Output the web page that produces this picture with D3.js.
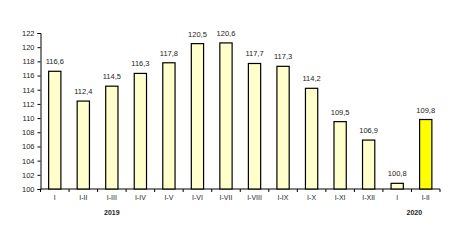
<!DOCTYPE html>
<html>
<head>
<meta charset="utf-8">
<script src="https://cdn.jsdelivr.net/npm/d3@7"></script>
<style>
  body { margin: 0; background: #fff; }
  svg text { font-family: Arial, "Liberation Sans", sans-serif; fill: #222; }
</style>
</head>
<body>
<svg id="chart" width="464" height="246"></svg>
<script>
const categories = ['I', 'I-II', 'I-III', 'I-IV', 'I-V', 'I-VI', 'I-VII', 'I-VIII', 'I-IX', 'I-X', 'I-XI', 'I-XII', 'I ', 'I-II '];
const values = [116.6, 112.4, 114.5, 116.3, 117.8, 120.5, 120.6, 117.7, 117.3, 114.2, 109.5, 106.9, 100.8, 109.8];
const highlighted = [false, false, false, false, false, false, false, false, false, false, false, false, false, true];
const yearLabels = [{ year: '2019', at: 2 }, { year: '2020', at: 12.6 }];
const yTicks = d3.range(100, 123, 2);

const svg = d3.select('#chart');

const x = d3.scaleBand().domain(categories).range([40.5, 440]).paddingInner(0.57).paddingOuter(0.285);
const y = d3.scaleLinear().domain([100, 122]).range([189, 33]);
const band = (x.range()[1] - x.range()[0]) / categories.length;

// y axis
let yAxis = svg.append('g')
    .attr('transform', `translate(${x.range()[0]},0)`)
    .call(d3.axisLeft(y).tickValues(yTicks).tickSize(3).tickPadding(3).tickFormat(d3.format('d')));
yAxis.selectAll('text').style('font-size', '7.5px');

// x axis line and ticks between categories
let xAxis = svg.append('g');
xAxis.append('line')
    .attr('x1', x.range()[0]).attr('x2', x.range()[1])
    .attr('y1', y(100)).attr('y2', y(100))
    .attr('stroke', '#000');
xAxis.selectAll('line.tick')
    .data(d3.range(categories.length + 1))
    .join('line')
    .attr('class', 'tick')
    .attr('x1', i => x.range()[0] + i * band)
    .attr('x2', i => x.range()[0] + i * band)
    .attr('y1', y(100)).attr('y2', y(100) + 3)
    .attr('stroke', '#000');
xAxis.selectAll('text')
    .data(categories)
    .join('text')
    .attr('x', d => x(d) + x.bandwidth() / 2)
    .attr('y', 200)
    .attr('text-anchor', 'middle')
    .style('font-size', '7px')
    .text(d => d.trim());

// bars
svg.selectAll('rect.bar')
    .data(values)
    .join('rect')
    .attr('class', 'bar')
    .attr('x', (d, i) => x(categories[i]))
    .attr('y', d => y(d))
    .attr('width', x.bandwidth())
    .attr('height', d => y(100) - y(d))
    .attr('fill', (d, i) => highlighted[i] ? '#ffff00' : '#ffffcc')
    .attr('stroke', '#000')
    .attr('stroke-width', 1.2);

// value labels
svg.selectAll('text.val')
    .data(values)
    .join('text')
    .attr('class', 'val')
    .attr('x', (d, i) => x(categories[i]) + x.bandwidth() / 2)
    .attr('y', d => y(d) - 7)
    .attr('text-anchor', 'middle')
    .style('font-size', '7.5px')
    .text(d => d3.format('.1f')(d).replace('.', ','));

// year labels
svg.selectAll('text.year')
    .data(yearLabels)
    .join('text')
    .attr('class', 'year')
    .attr('x', d => x.range()[0] + (d.at + 0.5) * band)
    .attr('y', 215)
    .attr('text-anchor', 'middle')
    .style('font-size', '7px')
    .style('font-weight', 'bold')
    .text(d => d.year);
</script>
</body>
</html>
